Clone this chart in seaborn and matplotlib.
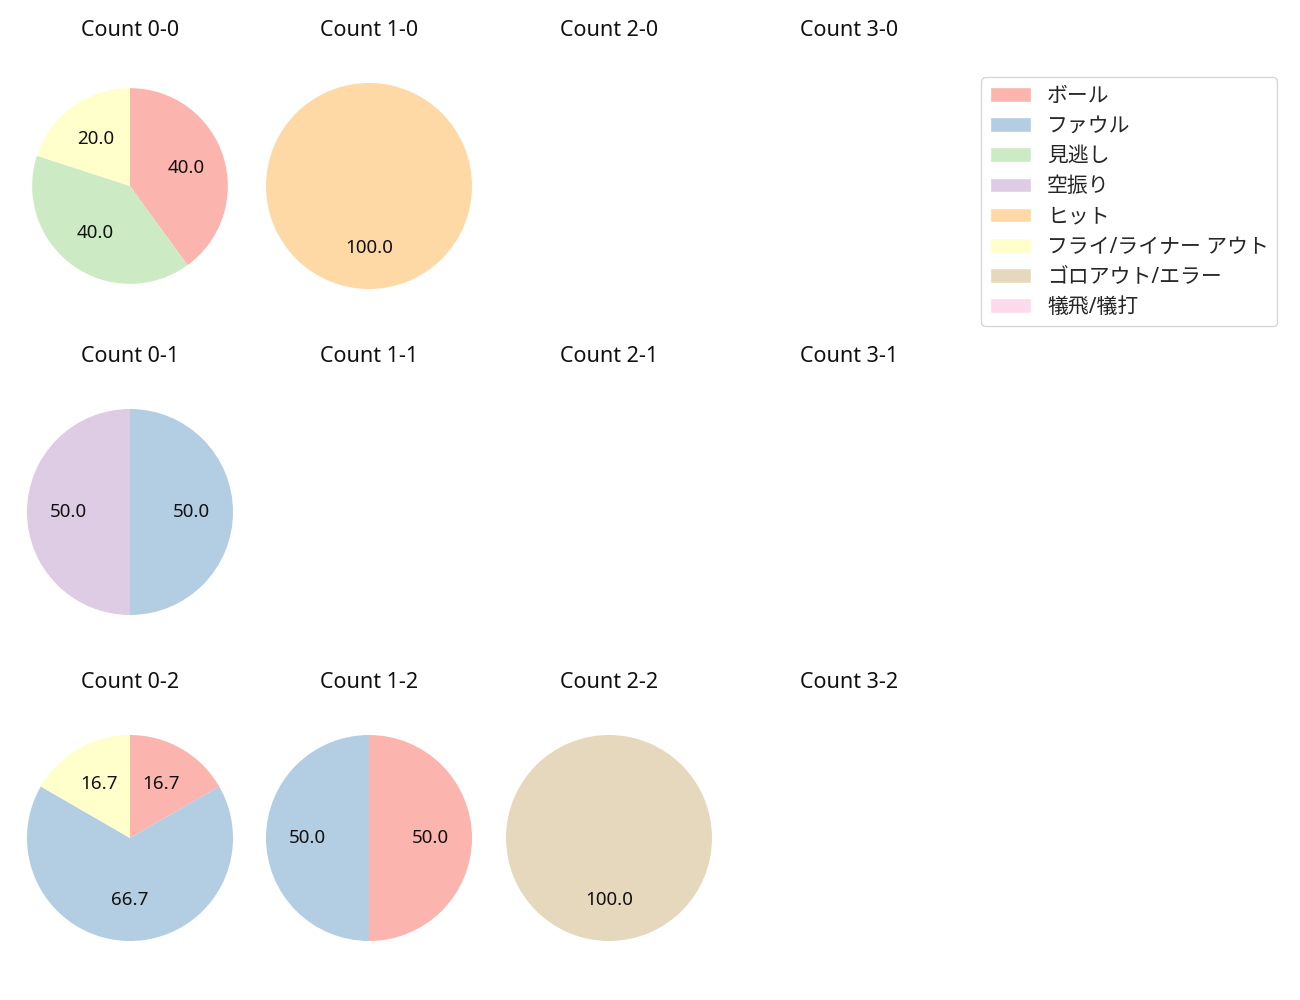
import matplotlib
matplotlib.use("Agg")
import matplotlib.pyplot as plt
from matplotlib.patches import Patch
import seaborn as sns

sns.set_style("white")
plt.rcParams['font.family'] = ['Noto Sans', 'Noto Sans CJK JP', 'DejaVu Sans']
plt.rcParams['font.size'] = 14

categories = ["ボール", "ファウル", "見逃し", "空振り", "ヒット",
              "フライ/ライナー アウト", "ゴロアウト/エラー", "犠飛/犠打"]

balls = [0, 1, 2, 3]
strikes = [0, 1, 2]

# counts per category for each ball-strike count (ball, strike)
counts = {
    (0, 0): [2, 0, 2, 0, 0, 1, 0, 0],
    (1, 0): [0, 0, 0, 0, 1, 0, 0, 0],
    (0, 1): [0, 1, 0, 1, 0, 0, 0, 0],
    (0, 2): [1, 4, 0, 0, 0, 1, 0, 0],
    (1, 2): [1, 1, 0, 0, 0, 0, 0, 0],
    (2, 2): [0, 0, 0, 0, 0, 0, 1, 0],
}

colors = sns.color_palette("Pastel1", len(categories))

W, H = 1300, 1000
fig = plt.figure(figsize=(13, 10), dpi=100)

col_x = [130, 369, 609, 849]
row_y = [186, 512, 838]
unit = 103.0
aw, ah = 240, 288

for si, s in enumerate(strikes):
    for bi, b in enumerate(balls):
        cx, cy = col_x[bi], row_y[si]
        ax = fig.add_axes([(cx - aw / 2) / W, 1 - (cy + ah / 2) / H, aw / W, ah / H])
        vals = counts.get((b, s))
        if vals is not None:
            v = [x for x in vals if x > 0]
            c = [colors[i] for i, x in enumerate(vals) if x > 0]
            ax.pie(v, colors=c, startangle=90, counterclock=False,
                   autopct="%.1f", radius=0.95 if (b, s) == (0, 0) else 1.0,
                   wedgeprops={"linewidth": 0, "edgecolor": "none"},
                   textprops={"fontsize": 13.5, "color": "#111111"})
        ax.set_xlim(-aw / 2 / unit, aw / 2 / unit)
        ax.set_ylim(-ah / 2 / unit, ah / 2 / unit)
        ax.set_aspect("auto")
        ax.axis("off")
        ax.set_title(f"Count {b}-{s}", fontsize=15.5, color="#111111", pad=4.5)

handles = [Patch(facecolor=colors[i], label=categories[i]) for i in range(len(categories))]
fig.legend(handles=handles, loc="upper left",
           bbox_to_anchor=(971 / W, 1 - 67 / H), fontsize=15,
           labelspacing=0.44, handletextpad=0.75)

fig.savefig("out.png", dpi=100)
